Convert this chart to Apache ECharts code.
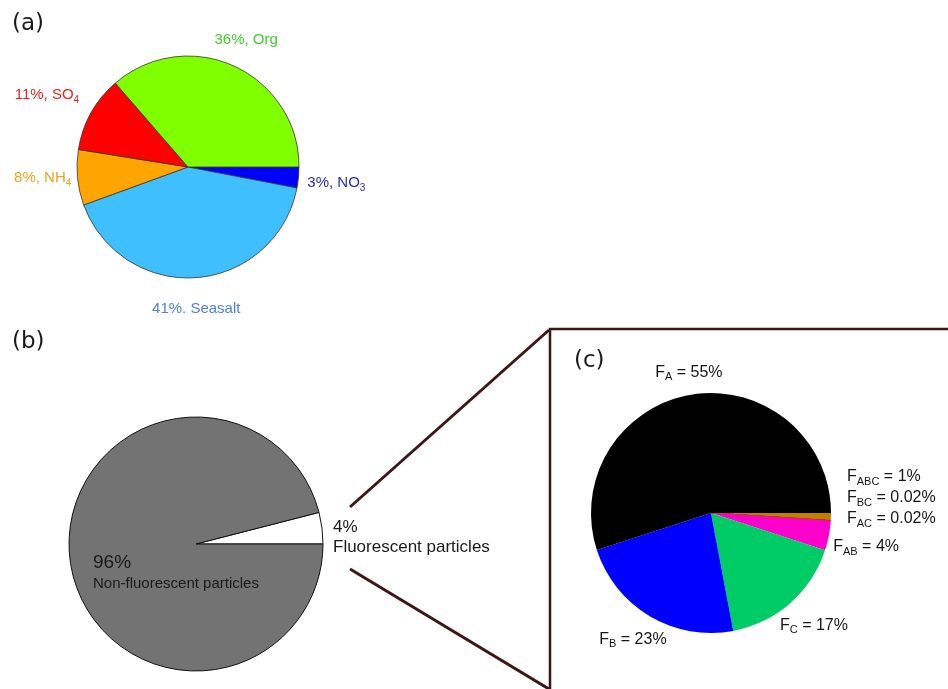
<!DOCTYPE html>
<html>
<head>
<meta charset="utf-8">
<script src="https://cdn.jsdelivr.net/npm/echarts@6/dist/echarts.min.js"></script>
<style>
html, body { margin: 0; padding: 0; background: #fff; }
#chart-container { width: 948px; height: 689px; }
</style>
</head>
<body>
<div id="chart-container"></div>
<script>
// (a) bulk composition, clockwise from 3 o'clock
const compNames = ['NO3', 'Seasalt', 'NH4', 'SO4', 'Org'];
const compValues = [3, 41, 8, 11, 36];
const compLabels = ['3%, NO{s|3}', '41%. Seasalt', '8%, NH{s|4}', '11%, SO{s|4}', '36%, Org'];

// (b) fluorescent fraction, counter-clockwise from 3 o'clock
const fluoNames = ['Fluorescent particles', 'Non-fluorescent particles'];
const fluoValues = [4, 96];
const fluoPct = ['4%', '96%'];

// (c) fluorescent types, clockwise from 3 o'clock
const typeNames = ['ABC', 'BC', 'AC', 'AB', 'C', 'B', 'A'];
const typeValues = [1, 0.02, 0.02, 4, 17, 23, 55];
const typePct = ['1%', '0.02%', '0.02%', '4%', '17%', '23%', '55%'];

// styles
const compColors = ['#0000ff', '#40bfff', '#ffa500', '#ff0000', '#80ff00'];
const compTextColors = ['#2a2ac4', '#4d7fe4', '#f0a21e', '#ec2121', '#3fd02b'];
const fluoColors = ['#ffffff', '#737373'];
const typeColors = ['#bf8000', '#8b2500', '#c04010', '#ff00cc', '#00cc66', '#0000ff', '#000000'];

const FONT = '"Liberation Sans", Arial, sans-serif';
const centerA = [188, 167], centerB = [196, 544], centerC = [711, 513];

// label spots: radius along the slice middle, plus a nudge
const spotsA = [{ r: 149, dy: 2 }, { r: 142, dx: -3 }, { r: 146, dy: -3 }, { r: 158, dx: -3, dy: 5 }, { r: 140 }];
const spotsB = [{ dx: 137, dy: -7, align: 'left' }, { dx: -103, dy: 29, align: 'left' }];
const spotsC = [
  { dx: 136, dy: -36, align: 'left' }, { dx: 136, dy: -15, align: 'left' }, { dx: 136, dy: 6, align: 'left' },
  { r: 158, dy: 4 }, { r: 150, dx: 4 }, { r: 147, dx: -3 }, { r: 142 }
];

function midAngles(values, start, clockwise) {
  const sum = values.reduce((a, b) => a + b, 0);
  const dir = clockwise ? -1 : 1;
  let a = start;
  return values.map(function (v) {
    const span = v / sum * 360;
    const m = a + dir * span / 2;
    a += dir * span;
    return m;
  });
}

function placeLabels(center, values, start, clockwise, spots) {
  const mids = midAngles(values, start, clockwise);
  return function (p) {
    const s = spots[p.dataIndex];
    const m = mids[p.dataIndex] * Math.PI / 180;
    const r = s.r || 0;
    return {
      x: center[0] + r * Math.cos(m) + (s.dx || 0),
      y: center[1] - r * Math.sin(m) + (s.dy || 0),
      align: s.align || 'center',
      verticalAlign: 'middle'
    };
  };
}

var dom = document.getElementById('chart-container');
var myChart = echarts.init(dom, null, { renderer: 'canvas' });

const titleStyle = { fontFamily: '"DejaVu Sans", sans-serif', fontSize: 23, fontWeight: 'normal', color: '#1a1a1a' };
const lineColor = '#3d1616';

var option = {
  animation: false,
  backgroundColor: '#fff',
  title: [
    { text: '(a)', left: 12, top: 13, padding: 0, textStyle: titleStyle },
    { text: '(b)', left: 12, top: 331, padding: 0, textStyle: titleStyle },
    { text: '(c)', left: 574, top: 350, padding: 0, textStyle: titleStyle }
  ],
  graphic: [
    { type: 'line', shape: { x1: 350, y1: 507, x2: 549, y2: 330 }, style: { stroke: lineColor, lineWidth: 3 } },
    { type: 'line', shape: { x1: 350, y1: 569, x2: 549, y2: 689 }, style: { stroke: lineColor, lineWidth: 3 } },
    { type: 'polyline', shape: { points: [[550, 689], [550, 329], [948, 329]] }, style: { stroke: lineColor, lineWidth: 2.5, fill: null } }
  ],
  series: [
    {
      type: 'pie',
      silent: true,
      center: centerA,
      radius: 111,
      startAngle: 0,
      clockwise: true,
      avoidLabelOverlap: false,
      itemStyle: { borderColor: '#333', borderWidth: 0.8 },
      label: {
        show: true,
        position: 'outside',
        fontFamily: FONT,
        fontSize: 15,
        lineHeight: 20,
        formatter: function (p) { return compLabels[p.dataIndex]; },
        rich: { s: { fontSize: 10, lineHeight: 10, verticalAlign: 'bottom' } }
      },
      labelLine: { show: false },
      labelLayout: placeLabels(centerA, compValues, 0, true, spotsA),
      data: compNames.map(function (n, i) {
        return { name: n, value: compValues[i], itemStyle: { color: compColors[i] }, label: { color: compTextColors[i] } };
      })
    },
    {
      type: 'pie',
      silent: true,
      center: centerB,
      radius: 127,
      startAngle: 0,
      clockwise: false,
      avoidLabelOverlap: false,
      itemStyle: { borderColor: '#111', borderWidth: 1 },
      label: {
        show: true,
        position: 'outside',
        fontFamily: FONT,
        color: '#1a1a1a',
        align: 'left',
        formatter: function (p) {
          return p.dataIndex === 0
            ? '{p|' + fluoPct[0] + '}\n{q|' + fluoNames[0] + '}'
            : '{g|' + fluoPct[1] + '}\n{n|' + fluoNames[1] + '}';
        },
        rich: {
          p: { fontSize: 17, lineHeight: 20 },
          q: { fontSize: 17, lineHeight: 20 },
          g: { fontSize: 19, lineHeight: 22 },
          n: { fontSize: 15, lineHeight: 20 }
        }
      },
      labelLine: { show: false },
      labelLayout: placeLabels(centerB, fluoValues, 0, false, spotsB),
      data: fluoNames.map(function (n, i) {
        return { name: n, value: fluoValues[i], itemStyle: { color: fluoColors[i] } };
      })
    },
    {
      type: 'pie',
      silent: true,
      center: centerC,
      radius: 120,
      startAngle: 0,
      clockwise: true,
      avoidLabelOverlap: false,
      itemStyle: { borderWidth: 0 },
      label: {
        show: true,
        position: 'outside',
        fontFamily: FONT,
        fontSize: 16,
        lineHeight: 20,
        color: '#161616',
        formatter: function (p) { return 'F{s|' + typeNames[p.dataIndex] + '} = ' + typePct[p.dataIndex]; },
        rich: { s: { fontSize: 11, lineHeight: 11, verticalAlign: 'bottom' } }
      },
      labelLine: { show: false },
      labelLayout: placeLabels(centerC, typeValues, 0, true, spotsC),
      data: typeNames.map(function (n, i) {
        const tiny = typeValues[i] < 0.1;
        return {
          name: n,
          value: typeValues[i],
          itemStyle: { color: typeColors[i], borderColor: typeColors[i], borderWidth: tiny ? 1 : 0 }
        };
      })
    }
  ]
};

if (option && typeof option === 'object') {
  myChart.setOption(option);
}

window.addEventListener('resize', myChart.resize);
</script>
</body>
</html>
